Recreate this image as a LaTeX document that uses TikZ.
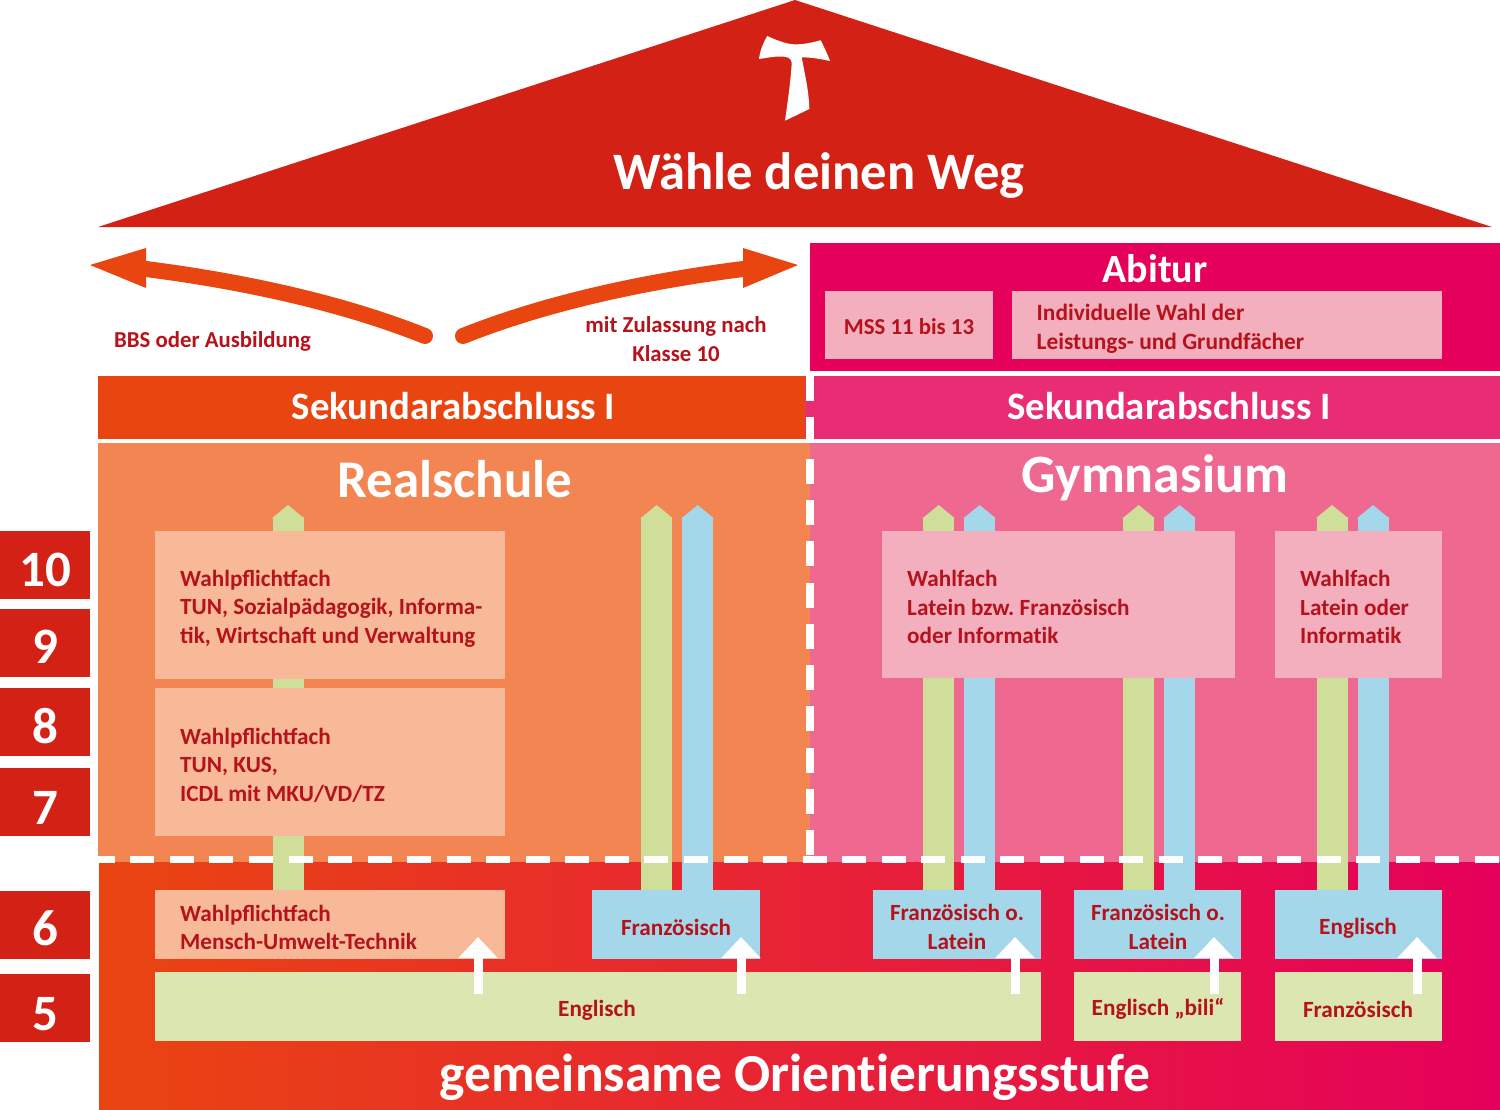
\documentclass[tikz,border=0pt]{standalone}
\usepackage{fontspec}
\setmainfont{Carlito}
\usetikzlibrary{arrows.meta,fit}
\definecolor{roofred}{HTML}{D32215}
\definecolor{txtred}{HTML}{B5121B}
\definecolor{orng}{HTML}{E94510}
\definecolor{orngmid}{HTML}{F28551}
\definecolor{orngpale}{HTML}{F7B997}
\definecolor{mag}{HTML}{E5005B}
\definecolor{magmid}{HTML}{E92D74}
\definecolor{pinkmid}{HTML}{EE6890}
\definecolor{pinkpale}{HTML}{F4AFBF}
\definecolor{grn}{HTML}{CFDF9A}
\definecolor{grnpale}{HTML}{DBE6B1}
\definecolor{blu}{HTML}{A4D7EA}
\definecolor{gradmid}{HTML}{E8353A}
\tikzset{
 x=1pt,y=-1pt,
 txtbox/.style={font=\fontsize{23.2}{28.6}\selectfont\bfseries,text=txtred,inner sep=0pt},
 notetxt/.style={font=\fontsize{22.8}{28.6}\selectfont\bfseries,text=txtred,inner sep=0pt},
 panel/.style={inner sep=0pt,outer sep=0pt},
 bandtxt/.style={font=\fontsize{38.8}{40}\selectfont\bfseries,text=white,inner sep=0pt},
 headtxt/.style={text=white,inner sep=0pt},
 yearbox/.style={fill=roofred,text=white,minimum width=90pt,minimum height=68pt,inner sep=0pt,text depth=0pt,font=\fontsize{51}{51}\selectfont\bfseries},
 col/.style={line width=31pt,-{Triangle[length=13pt,width=31pt]}},
 upw/.style={white,line width=9pt,-{Triangle[length=21pt,width=38pt]}},
 curve/.style={orng,line width=16pt,line cap=round},
 dashv/.style={white,line width=8pt,dash pattern=on 25pt off 16.3pt},
 dashh/.style={white,line width=7.5pt,dash pattern=on 24pt off 15.55pt,dash phase=7.25pt},
}
\newcommand{\panelbox}[6]{\node[panel,fill=#6,fit={(#2,#3)(#4,#5)}] (#1) {};}
\begin{document}
\begin{tikzpicture}
\useasboundingbox (0,0) rectangle (1500,1109);
% roof
\fill[roofred] (795,0) -- (1492,227) -- (98,227) -- cycle;
\node[headtxt,font=\fontsize{52.6}{52}\selectfont\bfseries] (title) at (819,175) {Wähle deinen Weg};
\fill[white] (767.3,36) .. controls (778,41) and (788,44.5) .. (795,44.3) .. controls (805,44.5) and (814,42) .. (820.7,40.3)
 .. controls (824,47) and (827,53) .. (830,61) .. controls (821,59) and (811,57.3) .. (801.7,57.3)
 .. controls (805,75) and (809,92) .. (809.3,109) -- (785,120.7) .. controls (788,100) and (791,78) .. (791.7,63)
 .. controls (791.5,58) and (788,56.5) .. (780,56.5) .. controls (773,56.5) and (766,58) .. (759,59) .. controls (760,51) and (763,43) .. (767.3,36) -- cycle;
% Abitur
\panelbox{abiturbg}{810}{243}{1500}{371}{mag}
\node[headtxt,font=\fontsize{40}{40}\selectfont\bfseries] (abitur) at (1155,269) {Abitur};
\panelbox{mssbox}{825}{291}{993}{359}{pinkpale}
\node[txtbox,font=\fontsize{22.8}{28.6}\selectfont\bfseries] (mss) at (909,327) {MSS 11 bis 13};
\panelbox{wahlbox}{1012}{291}{1442}{359}{pinkpale}
\node[txtbox,align=left,anchor=west,font=\fontsize{23.4}{29}\selectfont\bfseries] (wahl) at (1036.5,329) {Individuelle Wahl der\\Leistungs- und Grundfächer};
% school areas
\panelbox{realarea}{98}{443}{810}{862}{orngmid}
\panelbox{gymarea}{810}{443}{1500}{862}{pinkmid}
\shade[left color=orng,middle color=gradmid,right color=mag] (99,862) rectangle (1500,1109);
\panelbox{sekl}{98}{376}{805}{438.5}{orng}
\panelbox{sekr}{805}{376}{1500}{438.5}{magmid}
\node[bandtxt] (sek1) at (453.5,406.5) {Sekundarabschluss I};
\node[bandtxt] (sek2) at (1169,406.5) {Sekundarabschluss I};
\node[headtxt,font=\fontsize{53}{53}\selectfont\bfseries] (real) at (455,479) {Realschule};
\node[headtxt,font=\fontsize{54}{54}\selectfont\bfseries] (gym) at (1155,477.5) {Gymnasium};
% curved arrows
\coordinate (la) at (146,269);
\coordinate (ls) at (425,336);
\coordinate (ra) at (743,269);
\coordinate (rs) at (463,336);
\draw[curve] (ls) .. controls (340,302) and (240,281) .. (la);
\draw[curve] (rs) .. controls (548,302) and (648,281) .. (ra);
\fill[orng] (146,248) -- (90,265) -- (146,288) -- cycle;
\fill[orng] (743,248) -- (798,265) -- (743,288) -- cycle;
\node[notetxt] (bbs) at (212.5,341) {BBS oder Ausbildung};
\node[notetxt,align=center] (zul) at (676,339) {mit Zulassung nach\\Klasse 10};
% lower boxes
\panelbox{bmut}{155}{890}{505}{959}{orngpale}
\panelbox{bf1}{592}{890}{760}{959}{blu}
\panelbox{bf2}{873}{890}{1041}{959}{blu}
\panelbox{bf3}{1074}{890}{1241}{959}{blu}
\panelbox{be0}{1275}{890}{1442}{959}{blu}
\panelbox{be1}{155}{972}{1041}{1041}{grnpale}
\panelbox{be2}{1074}{972}{1241}{1041}{grnpale}
\panelbox{bf4}{1275}{972}{1442}{1041}{grnpale}
% column arrows
\coordinate (c1) at (288,505);
\coordinate (c2) at (656.7,505);
\coordinate (c3) at (697.7,505);
\coordinate (c4) at (938.7,505);
\coordinate (c5) at (979.6,505);
\coordinate (c6) at (1138.7,505);
\coordinate (c7) at (1179.6,505);
\coordinate (c8) at (1332,505);
\coordinate (c9) at (1373,505);
\draw[col,grn] (bmut.north -| c1) -- (c1);
\draw[col,grn] (bf1.north -| c2) -- (c2);
\draw[col,blu] (bf1.north -| c3) -- (c3);
\draw[col,grn] (bf2.north -| c4) -- (c4);
\draw[col,blu] (bf2.north -| c5) -- (c5);
\draw[col,grn] (bf3.north -| c6) -- (c6);
\draw[col,blu] (bf3.north -| c7) -- (c7);
\draw[col,grn] (be0.north -| c8) -- (c8);
\draw[col,blu] (be0.north -| c9) -- (c9);
% boxes in the school areas
\panelbox{bwp1}{155}{531}{505}{679}{orngpale}
\node[txtbox,align=left,anchor=west] (wp1) at (180,608.5) {Wahlpflichtfach\\TUN, Sozialpädagogik, Informa-\\tik, Wirtschaft und Verwaltung};
\panelbox{bwp2}{155}{688}{505}{836}{orngpale}
\node[txtbox,align=left,anchor=west] (wp2) at (180,765) {Wahlpflichtfach\\TUN, KUS,\\ICDL mit MKU/VD/TZ};
\panelbox{bwf1}{882}{531}{1235}{678}{pinkpale}
\node[txtbox,align=left,anchor=west] (wf1) at (907,607) {Wahlfach\\Latein bzw.\ Französisch\\oder Informat\kern0pt ik};
\panelbox{bwf2}{1275}{531}{1442}{678}{pinkpale}
\node[txtbox,align=left,anchor=west] (wf2) at (1300,607) {Wahlfach\\Latein oder\\Informat\kern0pt ik};
% dashes
\coordinate (dvt) at (810,376);
\coordinate (dvb) at (810,858);
\coordinate (dhl) at (98,859.5);
\coordinate (dhr) at (1500,859.5);
\draw[dashv] (dvt) -- (dvb);
\draw[dashh] (dhl) -- (dhr);
% labels of the lower boxes
\node[txtbox,align=left,anchor=west] (wpm) at (180,927.5) {Wahlpflichtfach\\Mensch-Umwelt-Technik};
\node[txtbox] (f1) at (676,927) {Französisch};
\node[txtbox,align=center] (f2) at (957,927) {Französisch o.\\Latein};
\node[txtbox,align=center] (f3) at (1158,927) {Französisch o.\\Latein};
\node[txtbox] (e0) at (1358,928.5) {Englisch};
\node[txtbox] (e1) at (597,1010.5) {Englisch};
\node[txtbox] (e2) at (1158,1009) {Englisch „bili“};
\node[txtbox] (f4) at (1358,1009) {Französisch};
% white up arrows
\coordinate (u1) at (478,937);
\coordinate (u2) at (741,937);
\coordinate (u3) at (1015,937);
\coordinate (u4) at (1214,937);
\coordinate (u5) at (1417,937);
\draw[upw] (u1 |- 0,994) -- (u1);
\draw[upw] (u2 |- 0,994) -- (u2);
\draw[upw] (u3 |- 0,994) -- (u3);
\draw[upw] (u4 |- 0,994) -- (u4);
\draw[upw] (u5 |- 0,994) -- (u5);
\node[headtxt,font=\fontsize{53.5}{53}\selectfont\bfseries] (orient) at (795,1077) {gemeinsame Orient\kern0pt ierungsstufe};
% years
\node[yearbox,text height=43pt] (y10) at (45,565) {10};
\node[yearbox,text height=41pt] (y9) at (45,642.5) {9};
\node[yearbox,text height=43pt] (y8) at (45,722) {8};
\node[yearbox,text height=45pt] (y7) at (45,802) {7};
\node[yearbox,text height=42pt] (y6) at (45,924.5) {6};
\node[yearbox,text height=45pt] (y5) at (45,1007.5) {5};
\end{tikzpicture}
\end{document}
